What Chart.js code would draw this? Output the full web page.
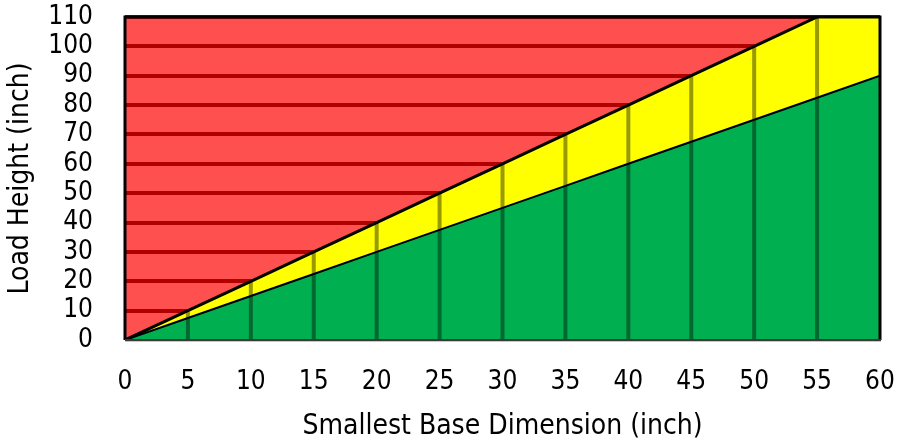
<!DOCTYPE html>
<html>
<head>
<meta charset="utf-8">
<script src="https://cdn.jsdelivr.net/npm/chart.js@4/dist/chart.umd.min.js"></script>
<style>
  html, body { margin: 0; padding: 0; background: #fff; }
  #wrap { width: 898px; height: 445px; }
</style>
</head>
<body>
<div id="wrap"><canvas id="loadChart"></canvas></div>
<script>
// values
const baseDims = [0, 5, 10, 15, 20, 25, 30, 35, 40, 45, 50, 55, 60];
const greenLimit = [0, 7.5, 15, 22.5, 30, 37.5, 45, 52.5, 60, 67.5, 75, 82.5, 90];
const yellowLimit = [0, 10, 20, 30, 40, 50, 60, 70, 80, 90, 100, 110, 120];
const xTicks = [0, 5, 10, 15, 20, 25, 30, 35, 40, 45, 50, 55, 60];
const yTicks = [0, 10, 20, 30, 40, 50, 60, 70, 80, 90, 100, 110];

const FONT = '"DejaVu Sans Condensed", "Liberation Sans Narrow", "Open Sans", sans-serif';

function pts(ys) {
    return baseDims.map((x, i) => ({ x: x, y: ys[i] }));
}

// red zone = plot background, dark red horizontal grid sits on it
const redZone = {
    id: 'redZone',
    beforeDraw(chart) {
        const a = chart.chartArea;
        const ctx = chart.ctx;
        ctx.save();
        ctx.fillStyle = '#ff5050';
        ctx.fillRect(a.left, a.top, a.right - a.left, a.bottom - a.top);
        ctx.restore();
    },
    // vertical grid only below the yellow/red boundary
    beforeDatasetsDraw(chart) {
        const a = chart.chartArea;
        const ctx = chart.ctx;
        const xs = chart.scales.x;
        const meta = chart.getDatasetMeta(1);
        ctx.save();
        ctx.strokeStyle = 'rgba(0,0,0,0.4)';
        ctx.lineWidth = 4;
        xs.ticks.forEach(t => {
            const i = baseDims.indexOf(t.value);
            if (i <= 0 || t.value >= 60) return;
            const px = xs.getPixelForValue(t.value);
            const top = Math.max(meta.data[i].y, a.top);
            ctx.beginPath();
            ctx.moveTo(px, a.bottom);
            ctx.lineTo(px, top);
            ctx.stroke();
        });
        ctx.restore();
    },
    afterDatasetsDraw(chart) {
        const a = chart.chartArea;
        const ctx = chart.ctx;
        ctx.save();
        ctx.strokeStyle = '#000';
        ctx.lineWidth = 3;
        ctx.beginPath();
        ctx.moveTo(a.left, a.bottom);
        ctx.lineTo(a.left, a.top);
        ctx.lineTo(a.right, a.top);
        ctx.lineTo(a.right, a.bottom);
        ctx.stroke();
        ctx.strokeStyle = '#3a3a3a';
        ctx.lineWidth = 2;
        ctx.beginPath();
        ctx.moveTo(a.left, a.bottom);
        ctx.lineTo(a.right + 1, a.bottom);
        ctx.stroke();
        ctx.strokeStyle = '#c8c8c8';
        ctx.lineWidth = 1;
        ctx.beginPath();
        ctx.moveTo(a.left, a.bottom + 1.5);
        ctx.lineTo(a.right + 1, a.bottom + 1.5);
        ctx.stroke();
        ctx.restore();
    }
};

function noOverhang(s) {
    s.paddingTop = 0;
    s.paddingBottom = 0;
    s.paddingLeft = 0;
    s.paddingRight = 0;
}

const ctx = document.getElementById('loadChart').getContext('2d');
new Chart(ctx, {
    type: 'line',
    data: {
        datasets: [
            {
                label: 'Safe',
                data: pts(greenLimit),
                backgroundColor: '#00b050',
                borderColor: '#000',
                borderWidth: 2,
                fill: 'origin',
                pointRadius: 0,
                tension: 0
            },
            {
                label: 'Caution',
                data: pts(yellowLimit),
                backgroundColor: '#ffff00',
                borderColor: '#000',
                borderWidth: 3,
                fill: '-1',
                pointRadius: 0,
                tension: 0
            }
        ]
    },
    options: {
        responsive: true,
        maintainAspectRatio: false,
        animation: false,
        layout: { padding: { top: 17, right: 18, left: 0, bottom: 0 } },
        plugins: {
            legend: { display: false },
            tooltip: { enabled: false },
            filler: { drawTime: 'beforeDatasetsDraw' }
        },
        scales: {
            x: {
                type: 'linear',
                min: 0,
                max: 60,
                afterBuildTicks: s => { s.ticks = xTicks.map(v => ({ value: v })); },
                afterFit: s => { s.height = 105; noOverhang(s); },
                grid: { display: false },
                border: { display: false },
                ticks: {
                    color: '#000',
                    padding: 19,
                    autoSkip: false,
                    maxRotation: 0,
                    font: { family: FONT, size: 26 }
                },
                title: {
                    display: true,
                    text: 'Smallest Base Dimension (inch)',
                    color: '#000',
                    padding: { top: 0, bottom: 1 },
                    font: { family: FONT, size: 28 }
                }
            },
            y: {
                min: 0,
                max: 110,
                afterBuildTicks: s => { s.ticks = yTicks.map(v => ({ value: v })); },
                afterFit: s => { s.width = 125; noOverhang(s); },
                grid: {
                    color: '#b00000',
                    lineWidth: 4,
                    drawTicks: false
                },
                border: { display: false },
                ticks: {
                    color: '#000',
                    padding: 32,
                    autoSkip: false,
                    font: { family: FONT, size: 26 }
                },
                title: {
                    display: true,
                    text: 'Load Height (inch)',
                    color: '#000',
                    padding: { top: 4, bottom: 0 },
                    font: { family: FONT, size: 28 }
                }
            }
        }
    },
    plugins: [redZone]
});
</script>
</body>
</html>
